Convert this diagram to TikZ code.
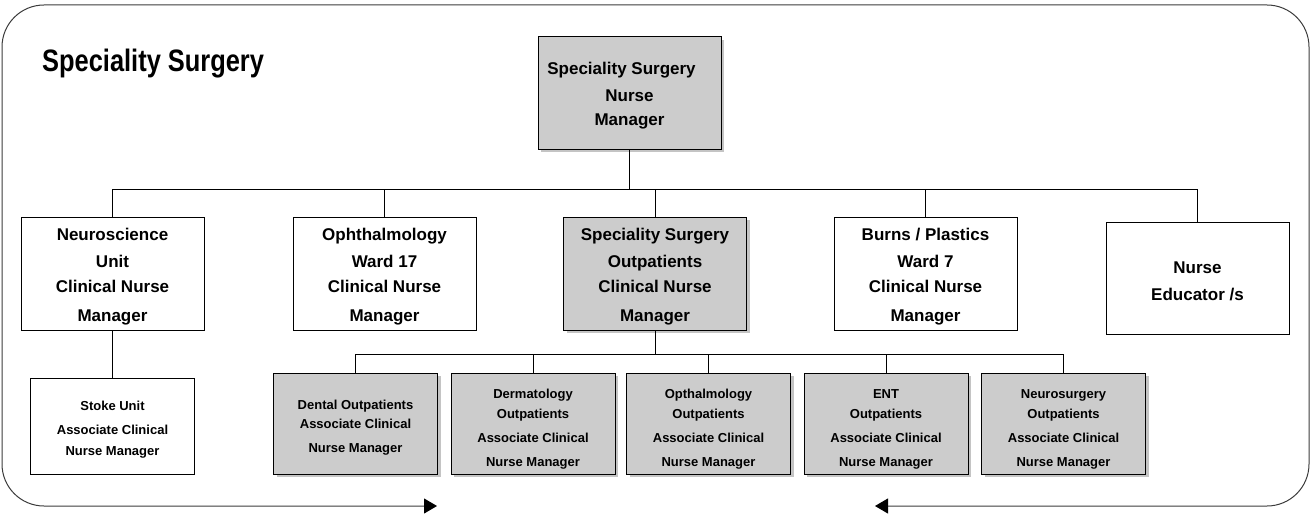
\documentclass[tikz,border=0pt]{standalone}
\usepackage{fontspec}
\setmainfont{Liberation Sans}
\newfontfamily\headfont[FakeStretch=0.82]{Liberation Sans}
\usetikzlibrary{arrows.meta,shadows}
\definecolor{boxgray}{HTML}{CCCCCC}
\definecolor{shadegray}{HTML}{C4C4C4}
\definecolor{framegray}{HTML}{3C3C3C}
% extra room above the first line, so the text block sits a little lower
\newcommand\bigpad{\rule{0pt}{18.5pt}}
\newcommand\smallpad{\rule{0pt}{17.5pt}}
\newcommand\fourpad{\rule{0pt}{21.5pt}}
\tikzset{
  orgbox/.style={draw=black, line width=1pt, inner sep=0pt, align=center,
    minimum width=183pt, minimum height=113pt,
    font=\fontsize{17}{27}\selectfont\bfseries},
  subbox/.style={draw=black, line width=1pt, inner sep=0pt, align=center,
    minimum width=164pt, minimum height=101pt,
    font=\fontsize{13}{24}\selectfont\bfseries},
  shaded/.style={fill=boxgray, drop shadow={shadow xshift=3pt, shadow yshift=-3pt,
    fill=shadegray, opacity=1}},
  link/.style={draw=black, line width=1pt},
  frame/.style={draw=framegray, line width=1pt, rounded corners=42pt,
    {Triangle[length=13pt,width=15pt,color=black]}-{Triangle[length=13pt,width=15pt,color=black]}}
}
\begin{document}
\begin{tikzpicture}[x=1pt,y=-1pt]
  \useasboundingbox (0,0) rectangle (1314,519);

  % outer frame, open at the bottom with arrow tips at both ends
  \draw[frame] (437,506) -- (2,506) -- (2,5) -- (1309,5) -- (1309,506) -- (875,506);

  % title
  \node[anchor=base west, inner sep=0pt, font=\headfont\fontsize{31}{31}\selectfont\bfseries]
    (title) at (42,71) {Speciality Surgery};

  % manager
  \node[orgbox, shaded, minimum height=112pt] (top) at (629.5,93)
    {\bigpad\hspace*{-16pt}Speciality Surgery\\Nurse\\[-3pt]Manager};

  % second level
  \node[orgbox] (neuro) at (112.5,273.5) {\bigpad Neuroscience\\Unit\\[-2pt]Clinical Nurse\\[2pt]Manager};
  \node[orgbox] (oph)   at (384.5,273.5) {\bigpad Ophthalmology\\Ward 17\\[-2pt]Clinical Nurse\\[2pt]Manager};
  \node[orgbox, shaded] (sso) at (655,273.5) {\bigpad Speciality Surgery\\Outpatients\\[-2pt]Clinical Nurse\\[2pt]Manager};
  \node[orgbox] (burns) at (925.5,273.5) {\bigpad Burns / Plastics\\Ward 7\\[-2pt]Clinical Nurse\\[2pt]Manager};
  \node[orgbox, minimum height=112pt] (educ) at (1197.5,278) {\bigpad Nurse\\Educator /s};

  % third level
  \node[subbox, minimum height=96pt] (stoke) at (112.5,426)
    {\smallpad Stoke Unit\\Associate Clinical\\[-3pt]Nurse Manager};
  \node[subbox, shaded] (dental) at (355.5,423.5)
    {\smallpad Dental Outpatients\\[-5pt]Associate Clinical\\Nurse Manager};
  \node[subbox, shaded] (derm) at (533,423.5)
    {\fourpad Dermatology\\[-4pt]Outpatients\\Associate Clinical\\Nurse Manager};
  \node[subbox, shaded] (opth) at (708.5,423.5)
    {\fourpad Opthalmology\\[-4pt]Outpatients\\Associate Clinical\\Nurse Manager};
  \node[subbox, shaded] (ent) at (886,423.5)
    {\fourpad ENT\\[-4pt]Outpatients\\Associate Clinical\\Nurse Manager};
  \node[subbox, shaded] (nsurg) at (1063.5,423.5)
    {\fourpad Neurosurgery\\[-4pt]Outpatients\\Associate Clinical\\Nurse Manager};

  % connectors: manager to second level
  \coordinate (busA) at (0,189);
  \draw[link] (top.south) -- (top.south |- busA);
  \draw[link] (neuro.north) -- (neuro.north |- busA) -- (educ.north |- busA) -- (educ.north);
  \draw[link] (oph.north) -- (oph.north |- busA);
  \draw[link] (sso.north) -- (sso.north |- busA);
  \draw[link] (burns.north) -- (burns.north |- busA);

  % connectors: second level to third level
  \draw[link] (neuro.south) -- (stoke.north);
  \coordinate (busB) at (0,354);
  \draw[link] (sso.south) -- (sso.south |- busB);
  \draw[link] (dental.north) -- (dental.north |- busB) -- (nsurg.north |- busB) -- (nsurg.north);
  \draw[link] (derm.north) -- (derm.north |- busB);
  \draw[link] (opth.north) -- (opth.north |- busB);
  \draw[link] (ent.north) -- (ent.north |- busB);
\end{tikzpicture}
\end{document}
